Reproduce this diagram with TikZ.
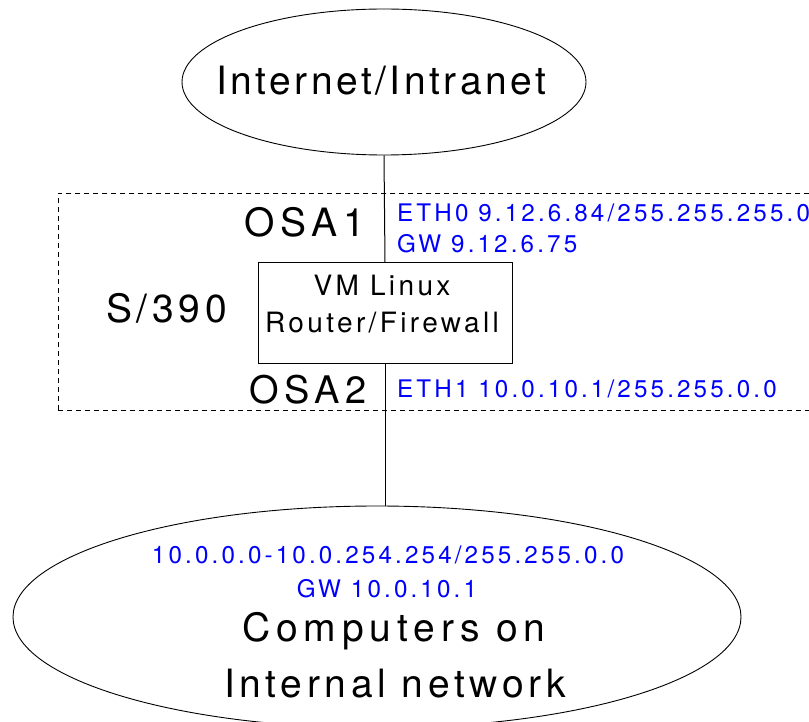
\documentclass[tikz,border=0pt]{standalone}
\usepackage{fontspec}
\setmainfont{TeX Gyre Heros}[LetterSpace=12]
\newfontfamily\tightfont{TeX Gyre Heros}[LetterSpace=9]
\newfontfamily\widefont{TeX Gyre Heros}[LetterSpace=15]
\newfontfamily\addrfont{TeX Gyre Heros}[LetterSpace=13]
\usetikzlibrary{shapes.geometric}
\begin{document}
\begin{tikzpicture}[x=1pt,y=-1pt,
  big/.style={font=\fontsize{39}{40}\selectfont, inner sep=0pt, anchor=base west},
  mid/.style={font=\fontsize{28}{30}\selectfont, inner sep=0pt, anchor=base},
  addr/.style={font=\addrfont\fontsize{24.2}{26}\selectfont, text=blue, inner sep=0pt, anchor=base west},
  cloud/.style={draw, ellipse, inner sep=0pt, line width=0.9pt},
  conn/.style={line width=1pt}]
\useasboundingbox (0,0) rectangle (809,722);
\clip (0,0) rectangle (809,722);
% S/390 dashed frame
\node[draw, dashed, dash pattern=on 5pt off 4pt, line width=0.8pt, inner sep=0pt,
      minimum width=780pt, minimum height=217pt, anchor=north west] (frame) at (58,193) {};
% top network
\node[cloud, minimum width=404pt, minimum height=146pt] (inet) at (384,82) {};
\node[big, font=\tightfont\fontsize{39}{40}\selectfont] (inettxt) at (216,95) {Internet/Intranet};
% router
\node[draw, rectangle, minimum width=254pt, minimum height=100pt, line width=1pt, inner sep=0pt] (router) at (385,313) {};
\node[mid] (vm) at (382,295) {VM Linux};
\node[mid] (rf) at (382,332) {Router/Firewall};
% labels
\node[big, font=\widefont\fontsize{39}{40}\selectfont] (osa1) at (244,237) {OSA1};
\node[big, font=\widefont\fontsize{38}{40}\selectfont] (osa2) at (249,403) {OSA2};
\node[big] (s390) at (106,323) {S/390};
\node[addr] (eth0) at (397,222) {ETH0 9.12.6.84/255.255.255.0};
\node[addr] (gw0) at (397,253) {GW 9.12.6.75};
\node[addr] (eth1) at (397,397) {ETH1 10.0.10.1/255.255.0.0};
% internal network
\node[cloud, minimum width=728pt, minimum height=222pt] (lan) at (377,617) {};
\node[addr, anchor=base] (range) at (388,563) {10.0.0.0-10.0.254.254/255.255.0.0};
\node[addr, anchor=base] (gw1) at (387,597) {GW 10.0.10.1};
\node[big, anchor=base, font=\widefont\fontsize{39}{40}\selectfont] (comp) at (394,641) {Computers on};
\node[big, anchor=base] (intn) at (395,697) {Internal network};
% connectors
\draw[conn] (inet.south) -- (router.north);
\draw[conn] (router.south) -- (router.south |- lan.north);
\end{tikzpicture}
\end{document}
